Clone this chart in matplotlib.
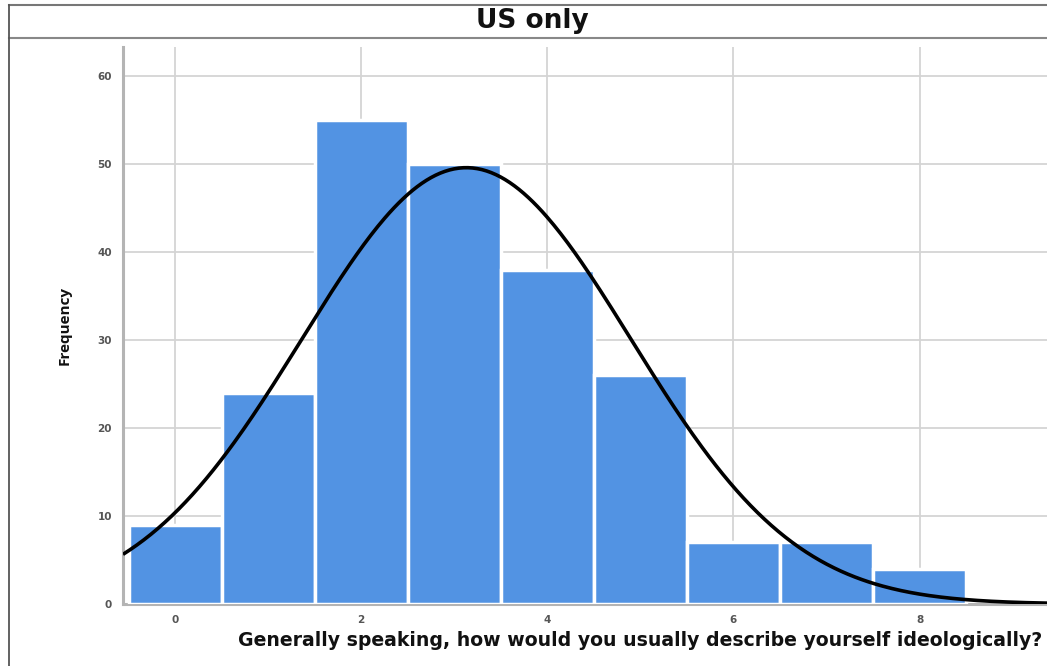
import numpy as np
import matplotlib
matplotlib.use("Agg")
import matplotlib.pyplot as plt
from matplotlib.lines import Line2D

# Data
categories = [0, 1, 2, 3, 4, 5, 6, 7, 8]
frequencies = [9, 24, 55, 50, 38, 26, 7, 7, 4]
curve_mean = 3.13
curve_sd = 1.77
title = "US only"
xlabel = "Generally speaking, how would you usually describe yourself ideologically?"
ylabel = "Frequency"
xticks = [0, 2, 4, 6, 8]
yticks = [0, 10, 20, 30, 40, 50, 60]

W, H = 1047, 666
fig = plt.figure(figsize=(W / 100, H / 100), dpi=100)
fig.patch.set_facecolor("white")

# axes placement (pixel based)
ax_left, ax_right, ax_top, ax_bottom = 123, 1047, 47, 604
ax = fig.add_axes([ax_left / W, 1 - ax_bottom / H, (ax_right - ax_left) / W, (ax_bottom - ax_top) / H])

ax.set_xlim(-0.56, 9.37)
ax.set_ylim(0, 63.3)

ax.bar(categories, frequencies, width=1.0, color="#5293E3", edgecolor="white", linewidth=2.5, zorder=3)

n = sum(frequencies)
xs = np.linspace(-0.56, 9.37, 400)
ys = n * 1.0 / (curve_sd * np.sqrt(2 * np.pi)) * np.exp(-0.5 * ((xs - curve_mean) / curve_sd) ** 2)
ax.plot(xs, ys, color="black", linewidth=2.6, zorder=4, solid_capstyle="butt")

ax.set_xticks(xticks)
ax.set_yticks(yticks)
ax.grid(True, color="#d4d4d4", linewidth=1.3, zorder=0)
ax.set_axisbelow(True)
ax.tick_params(axis="both", length=0, labelsize=7.5, colors="#555555", pad=8)
for lbl in ax.get_xticklabels() + ax.get_yticklabels():
    lbl.set_fontweight("bold")
    lbl.set_color("#555555")

for s in ["top", "right"]:
    ax.spines[s].set_visible(False)
ax.spines["left"].set_color("#b4b4b4")
ax.spines["left"].set_linewidth(2.2)
ax.spines["bottom"].set_color("#b4b4b4")
ax.spines["bottom"].set_linewidth(2.2)

# frame lines of screenshot
fig.add_artist(Line2D([9 / W, 1], [1 - 5 / H, 1 - 5 / H], transform=fig.transFigure, color="#777777", linewidth=1.5))
fig.add_artist(Line2D([9 / W, 1], [1 - 38 / H, 1 - 38 / H], transform=fig.transFigure, color="#888888", linewidth=1.5))
fig.add_artist(Line2D([9 / W, 9 / W], [0, 1 - 5 / H], transform=fig.transFigure, color="#555555", linewidth=1.3))

fig.text(532 / W, 1 - 21 / H, title, ha="center", va="center", fontsize=19, fontweight="bold",
         family="DejaVu Sans", color="#111111")
fig.text(640 / W, 1 - 641 / H, xlabel, ha="center", va="center", fontsize=13.6, fontweight="bold",
         family="DejaVu Sans", color="#111111")
fig.text(65 / W, 1 - 325 / H, ylabel, ha="center", va="center", rotation=90, fontsize=11,
         fontweight="bold", family="Open Sans", color="#111111", fontstretch="condensed")

fig.savefig("out.png", dpi=100, facecolor="white")
